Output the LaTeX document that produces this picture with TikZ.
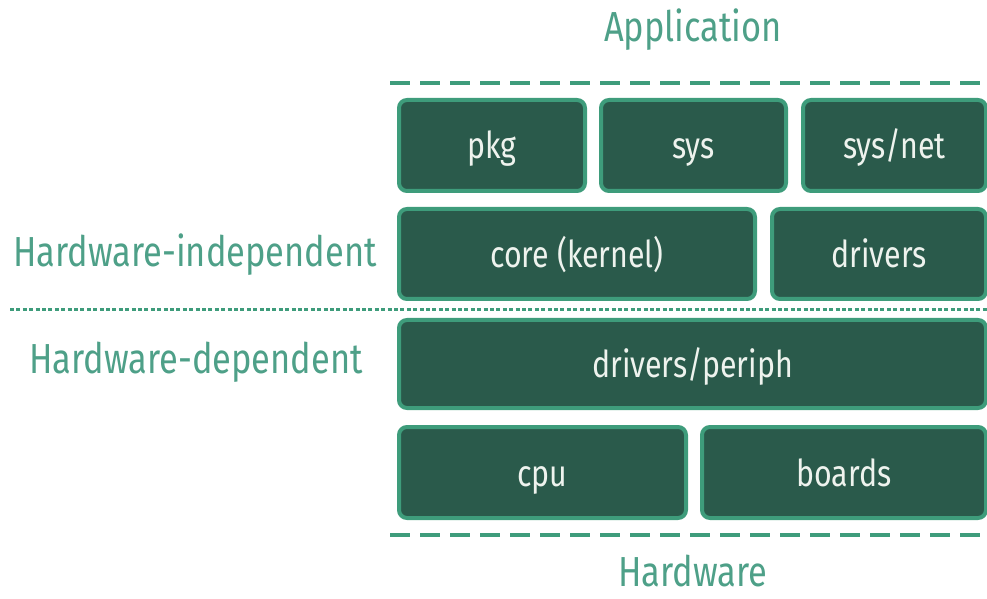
\documentclass[tikz,border=0pt]{standalone}
\usepackage{fontspec}
\setmainfont{Fira Sans}[FakeStretch=0.82]
\definecolor{boxgreen}{HTML}{2A5A4B}
\definecolor{edgegreen}{HTML}{3E9C7B}
\definecolor{labelgreen}{HTML}{4EA088}
\definecolor{boxtext}{HTML}{EEF3EE}
\tikzset{
  layer/.style={draw=edgegreen, fill=boxgreen, line width=2pt, rounded corners=4pt,
    text=boxtext, inner sep=0pt, text height=14pt, text depth=0.5pt,
    font=\fontsize{18.5}{22}\selectfont},
  side/.style={text=labelgreen, inner sep=0pt, font=\fontsize{21}{25}\selectfont},
  bound/.style={draw=edgegreen, line width=2pt, dash pattern=on 10pt off 5pt},
  split/.style={draw=edgegreen, line width=1.5pt, dash pattern=on 2pt off 1.2pt}
}
\begin{document}
\begin{tikzpicture}[x=0.5pt, y=-0.5pt]
  \useasboundingbox (0,0) rectangle (987,599);
  % boundaries
  \draw[bound] (390,83) -- (987,83);
  \draw[bound] (390,535) -- (987,535);
  \draw[split] (10,310) -- (987,310);
  % top row
  \node[layer, minimum width=93pt, minimum height=45.5pt] (pkg) at (492,145.5) {pkg};
  \node[layer, minimum width=92.5pt, minimum height=45.5pt] (sys) at (693.5,145.5) {sys};
  \node[layer, minimum width=91.5pt, minimum height=45.5pt] (net) at (894.5,145.5) {sys/net};
  % kernel row
  \node[layer, minimum width=178pt, minimum height=45pt] (core) at (577,254) {core (kernel)};
  \node[layer, minimum width=107pt, minimum height=45pt] (drv) at (879,254) {drivers};
  % periph row
  \node[layer, minimum width=293.5pt, minimum height=44pt] (periph) at (692.5,364) {drivers/periph};
  % bottom row
  \node[layer, minimum width=143.5pt, minimum height=45.5pt] (cpu) at (542.5,472.5) {cpu};
  \node[layer, minimum width=142pt, minimum height=45.5pt] (boards) at (844,472.5) {boards};
  % side labels
  \node[side] (app) at (693,30) {Application};
  \node[side] (hw) at (693,571) {Hardware};
  \node[side] (indep) at (195,255) {Hardware-independent};
  \node[side] (dep) at (196,362) {Hardware-dependent};
\end{tikzpicture}
\end{document}
